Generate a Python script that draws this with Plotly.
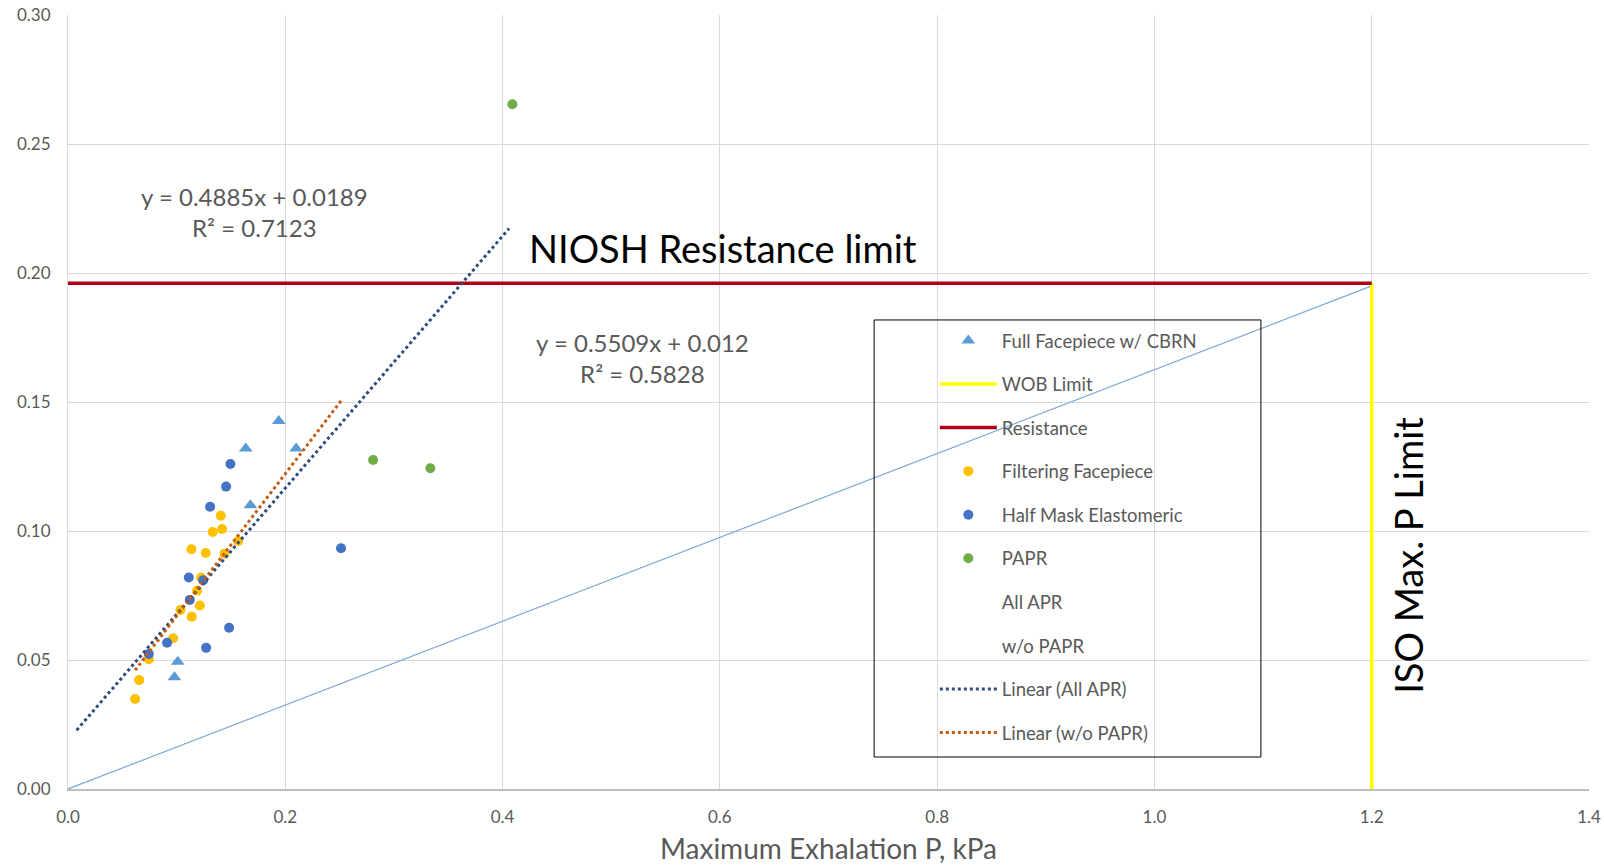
import numpy as np
import plotly.graph_objects as go

# ---------------- data ----------------
full_face_x = [0.194, 0.1636, 0.210, 0.1679, 0.101, 0.098]
full_face_y = [0.1426, 0.132, 0.132, 0.110, 0.0493, 0.0433]

filtering_x = [0.1406, 0.1332, 0.1418, 0.1136, 0.1268, 0.144, 0.1566, 0.1225,
               0.1188, 0.1035, 0.1213, 0.1139, 0.0967, 0.0744, 0.0655, 0.0618]
filtering_y = [0.1059, 0.0996, 0.1008, 0.0929, 0.0915, 0.0912, 0.0961, 0.0820,
               0.0769, 0.0694, 0.0711, 0.0668, 0.0584, 0.0503, 0.0422, 0.0349]

half_mask_x = [0.1495, 0.1455, 0.1308, 0.1112, 0.1244, 0.1121, 0.0912, 0.1483,
               0.1271, 0.0744, 0.2513]
half_mask_y = [0.126, 0.1172, 0.1094, 0.0820, 0.0809, 0.0733, 0.0567, 0.0625,
               0.0547, 0.0523, 0.0933]

papr_x = [0.409, 0.2808, 0.3335]
papr_y = [0.2654, 0.1275, 0.1243]

wob_x = [1.2, 1.2]
wob_y = [0.0, 0.196]

resistance_x = [0.0, 1.2]
resistance_y = [0.196, 0.196]

ref_line_x = [0.0, 1.2]
ref_line_y = [0.0, 0.195]

all_apr_fit = (0.4885, 0.0189)      # slope, intercept
all_apr_range = [0.008, 0.406]
wo_papr_fit = (0.5509, 0.012)
wo_papr_range = [0.0618, 0.2513]

x_ticks = [0.0, 0.2, 0.4, 0.6, 0.8, 1.0, 1.2, 1.4]
y_ticks = [0.00, 0.05, 0.10, 0.15, 0.20, 0.25, 0.30]

FONT = "Lato"
GRAY = "#595959"

fig = go.Figure()

def add(tr, rank):
    tr.legendrank = rank
    tr.legendgroup = "g%d" % rank
    fig.add_trace(tr)

add(go.Scatter(x=ref_line_x, y=ref_line_y, mode="lines",
               line=dict(color="#7FA7D0", width=1.2), showlegend=False, hoverinfo="skip"), 99)
add(go.Scatter(x=wob_x, y=wob_y, mode="lines", name="WOB Limit",
               line=dict(color="#FFFF00", width=3.5)), 2)
add(go.Scatter(x=resistance_x, y=resistance_y, mode="lines", name="Resistance",
               line=dict(color="#B00018", width=3.5)), 3)
add(go.Scatter(x=full_face_x, y=full_face_y, mode="markers", name="Full Facepiece w/ CBRN",
               marker=dict(symbol="triangle-up", size=12, color="#5B9BD5")), 1)
add(go.Scatter(x=filtering_x, y=filtering_y, mode="markers", name="Filtering Facepiece",
               marker=dict(size=10, color="#FFC000")), 4)
add(go.Scatter(x=half_mask_x, y=half_mask_y, mode="markers", name="Half Mask Elastomeric",
               marker=dict(size=10, color="#4472C4")), 5)
add(go.Scatter(x=papr_x, y=papr_y, mode="markers", name="PAPR",
               marker=dict(size=10, color="#70AD47")), 6)
add(go.Scatter(x=[None], y=[None], mode="markers", name="All APR",
               marker=dict(size=9, color="rgba(0,0,0,0)")), 7)
add(go.Scatter(x=[None], y=[None], mode="markers", name="w/o PAPR",
               marker=dict(size=9, color="rgba(0,0,0,0)")), 8)

xa = np.array(all_apr_range)
add(go.Scatter(x=xa, y=all_apr_fit[0] * xa + all_apr_fit[1], mode="lines",
               name="Linear (All APR)",
               line=dict(color="#2F4B7C", width=3, dash="dot")), 9)
xw = np.array(wo_papr_range)
add(go.Scatter(x=xw, y=wo_papr_fit[0] * xw + wo_papr_fit[1], mode="lines",
               name="Linear (w/o PAPR)",
               line=dict(color="#C55A11", width=3, dash="dot")), 10)

annotations = [
    dict(x=0.4225, y=0.2095, xref="x", yref="y", text="NIOSH Resistance limit",
         showarrow=False, xanchor="left", yanchor="middle",
         font=dict(family=FONT, size=38, color="#000000")),
    dict(x=1.2332, y=0.0907, xref="x", yref="y", text="ISO Max. P Limit",
         showarrow=False, textangle=-90, xanchor="center", yanchor="middle",
         font=dict(family=FONT, size=38, color="#000000")),
    dict(x=0.1713, y=0.2236, xref="x", yref="y",
         text="y = 0.4885x + 0.0189<br>R² = 0.7123",
         showarrow=False, align="center", xanchor="center", yanchor="middle",
         font=dict(family=FONT, size=24, color=GRAY)),
    dict(x=0.5289, y=0.1672, xref="x", yref="y",
         text="y = 0.5509x + 0.012<br>R² = 0.5828",
         showarrow=False, align="center", xanchor="center", yanchor="middle",
         font=dict(family=FONT, size=24, color=GRAY)),
]

fig.update_layout(
    width=1604, height=865,
    margin=dict(l=67.5, r=15, t=15, b=76, autoexpand=False),
    paper_bgcolor="white", plot_bgcolor="white",
    font=dict(family=FONT, color=GRAY),
    showlegend=True,
    legend=dict(x=0.5699, y=0.6034, xanchor="left", yanchor="top",
                bgcolor="rgba(0,0,0,0)", borderwidth=0,
                font=dict(family=FONT, size=18.5, color=GRAY),
                itemwidth=57, tracegroupgap=16.5, traceorder="grouped"),
    annotations=annotations,
    shapes=[dict(type="rect", xref="x", yref="y", x0=0.742, x1=1.098, y0=0.0124, y1=0.1818,
                 line=dict(color="#000000", width=1), fillcolor="rgba(0,0,0,0)", layer="above")],
    xaxis=dict(range=[0, 1.4], tickvals=x_ticks, tickformat=".1f", automargin=False,
               showgrid=True, gridcolor="#D9D9D9", gridwidth=1,
               showline=True, linecolor="#BFBFBF", linewidth=1.5, mirror=False,
               zeroline=False, ticks="outside", ticklen=12, tickcolor="rgba(0,0,0,0)",
               ticklabeloverflow="allow",
               tickfont=dict(size=17, color=GRAY),
               title=dict(text="Maximum Exhalation P, kPa", font=dict(size=28, color=GRAY), standoff=18)),
    yaxis=dict(range=[0, 0.30], tickvals=y_ticks, tickformat=".2f", automargin=False,
               showgrid=True, gridcolor="#D9D9D9", gridwidth=1,
               showline=True, linecolor="#D9D9D9", linewidth=1, mirror=False,
               zeroline=False, ticks="outside", ticklen=13, tickcolor="rgba(0,0,0,0)",
               ticklabeloverflow="allow",
               tickfont=dict(size=17, color=GRAY)),
)

# remove the page's default body margin so the figure fills the window exactly
fig.write_html("out.html",
               config={"displayModeBar": False},
               post_script="document.body.style.margin='0';document.body.style.overflow='hidden';")
